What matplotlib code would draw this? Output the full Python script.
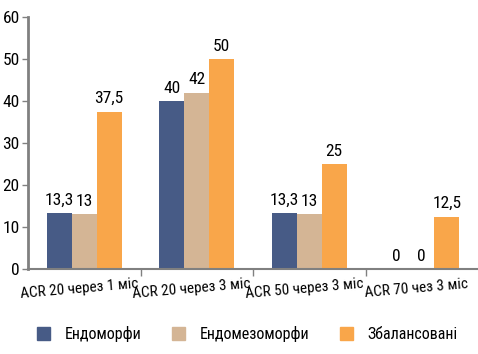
import matplotlib
matplotlib.use("Agg")
import matplotlib.pyplot as plt
import numpy as np
from matplotlib import font_manager
from matplotlib.patches import Patch

categories = ["ACR 20 через 1 міс", "ACR 20 через 3 міс", "ACR 50 через 3 міс", "ACR 70 чез 3 міс"]
series_names = ["Ендоморфи", "Ендомезоморфи", "Збалансовані"]
endo = [13.3, 40, 13.3, 0]
endomezo = [13, 42, 13, 0]
balanced = [37.5, 50, 25, 12.5]
labels_endo = ["13,3", "40", "13,3", "0"]
labels_endomezo = ["13", "42", "13", "0"]
labels_balanced = ["37,5", "50", "25", "12,5"]
colors = ["#475B86", "#D4B595", "#F9A64A"]

names = {f.name for f in font_manager.fontManager.ttflist}
fam = "Liberation Sans"
narrow = False
for cand in ["Liberation Sans Narrow", "Roboto Condensed", "Open Sans Condensed"]:
    if cand in names:
        fam = cand
        narrow = True
        break
plt.rcParams['font.family'] = [fam, 'DejaVu Sans']
k = 1.0 if narrow else 0.88

fig = plt.figure(figsize=(4.78, 3.54), dpi=100)
ax = fig.add_axes([28/478, 1-269/354, 450/478, (269-17)/354])

x = np.arange(len(categories))
w = 0.222
data = [endo, endomezo, balanced]
labs = [labels_endo, labels_endomezo, labels_balanced]
for i, (vals, lb, c, nm) in enumerate(zip(data, labs, colors, series_names)):
    bars = ax.bar(x + (i-1)*w, vals, w, color=c, label=nm, edgecolor='none')
    for b, t in zip(bars, lb):
        ax.text(b.get_x()+b.get_width()/2, b.get_height()+1.3, t, ha='center', va='bottom',
                fontsize=12.5*k)

ax.set_xlim(-0.5, 3.5)
ax.set_ylim(0, 60)
ax.set_yticks([0, 10, 20, 30, 40, 50, 60])
ax.tick_params(axis='y', labelsize=12.5*k, length=4, color='#808080', width=1, pad=2)
ax.set_xticks([0.5, 1.5, 2.5], minor=False)
ax.set_xticklabels([])
ax.tick_params(axis='x', length=5, color='#808080', width=1, direction='out')
for xi, cat in zip(x, categories):
    ax.text(xi - 0.05, -3.0, cat, rotation=5, ha='center', va='top', fontsize=11*k,
            transform=ax.transData, rotation_mode='anchor')
for s in ['top', 'right']:
    ax.spines[s].set_visible(False)
ax.spines['left'].set_color('#808080')
ax.spines['left'].set_linewidth(2)
ax.spines['bottom'].set_color('#808080')
ax.spines['bottom'].set_linewidth(1.5)

handles = [Patch(color=c, label=n) for c, n in zip(colors, series_names)]
fig.legend(handles=handles, loc='center', bbox_to_anchor=(0.517, 1-334/354), ncol=3, frameon=False,
           fontsize=11.5*k, handlelength=0.85, handleheight=0.85, columnspacing=1.9, handletextpad=0.9)
fig.savefig("out.png", dpi=100)
